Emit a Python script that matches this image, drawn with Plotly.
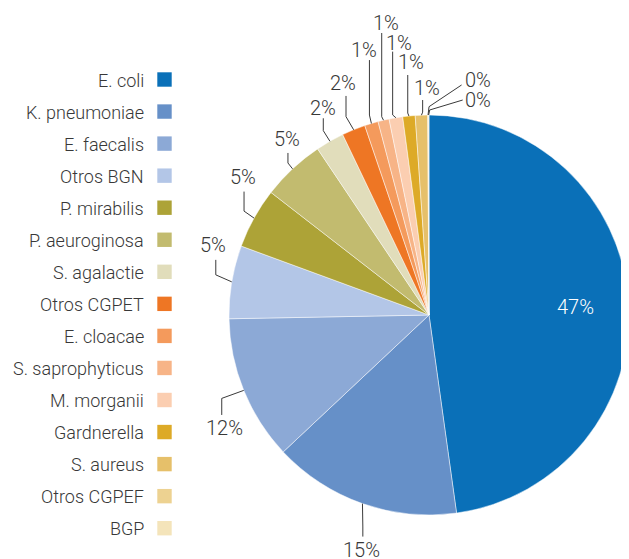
import math
import plotly.graph_objects as go

# ---------------- data ----------------
categories = ["E. coli", "K. pneumoniae", "E. faecalis", "Otros BGN", "P. mirabilis",
              "P. aeuroginosa", "S. agalactie", "Otros CGPET", "E. cloacae",
              "S. saprophyticus", "M. morganii", "Gardnerella", "S. aureus",
              "Otros CGPEF", "BGP"]
values = [47.8, 15.2, 11.7, 5.9, 4.9, 5.1, 2.3, 1.9, 1.1, 0.9, 1.1, 1.0, 1.0, 0.05, 0.05]
pct_labels = ["47%", "15%", "12%", "5%", "5%", "5%", "2%", "2%", "1%", "1%", "1%",
              "1%", "1%", "0%", "0%"]
colors = ["#0A70B8", "#6690C8", "#8CA9D6", "#B3C6E7", "#ADA337", "#C2BB6F", "#E1DDBB",
          "#EE7624", "#F49A5C", "#F7B487", "#FBCEB1", "#DDAA27", "#E6C06A", "#EDD291",
          "#F4E4BA"]

# ---------------- layout (pixels, figure coordinates) ----------------
W, H = 621, 551
CX, CY, R = 421, 307, 200
FONT = "Roboto"
TXT = "#383838"

# leader geometry per outside label: (elbow dx,dy), (end dx,dy), (text dx,dy) relative to rim point
leaders = [
    None,
    ((0.4, 23.4), (0.4, 33.0), (-0.6, 46.0)),
    ((-22, 8), (-22, 24.6), (-19, 38)),
    ((-16, -7), (-16, -22), (-19, -37)),
    ((-10, -7), (-10, -26.5), (-11, -41)),
    ((-4.6, -5.8), (-4.6, -15.8), (-5.6, -30)),
    ((-6.6, -10.6), (-6.6, -23), (-6.6, -33.6)),
    ((-7.6, -13.1), (-7.6, -33.8), (-10.3, -46.5)),
    ((-2, -8.4), (-2, -63.4), (-7.4, -73.4)),
    ((-1.8, -3.5), (-1.8, -87.2), (2.5, -97.5)),
    ((-3.2, -2.8), (-3.2, -66.1), (3.1, -75.1)),
    ((-1.2, -3), (-1.2, -41), (1.8, -54)),
    ((1.2, -3), (1.2, -15.1), (5.2, -26.8)),
    ((1, -8.3), (33.5, -30), (50, -35)),
    ((1, -5), (34, -15), (49.6, -15)),
]


def px(x):
    return x / W


def py(y):
    return 1 - y / H


fig = go.Figure()
fig.add_trace(go.Pie(
    labels=categories, values=values, sort=False, direction="clockwise", rotation=0,
    marker=dict(colors=colors, line=dict(color="rgba(255,255,255,0.6)", width=0.8)),
    textinfo="none", hoverinfo="label+percent", showlegend=False,
    domain=dict(x=[px(CX - R), px(CX + R)], y=[py(CY + R), py(CY - R)]),
))

annotations = []
shapes = []
total = sum(values)
cum = 0.0
for i, v in enumerate(values):
    mid = math.radians(360.0 * (cum + v / 2) / total)
    cum += v
    rx, ry = CX + R * math.sin(mid), CY - R * math.cos(mid)
    if leaders[i] is None:
        tx, ty = CX + 0.735 * R * math.sin(mid), CY - 0.735 * R * math.cos(mid) + 2
        annotations.append(dict(x=px(tx), y=py(ty), xref="paper", yref="paper",
                                text=pct_labels[i], showarrow=False,
                                font=dict(family=FONT, size=20, color="white"),
                                xanchor="center", yanchor="middle"))
        continue
    (ex, ey), (nx, ny), (tx, ty) = leaders[i]
    path = "M {:.4f} {:.4f} L {:.4f} {:.4f} L {:.4f} {:.4f}".format(
        px(rx), py(ry), px(rx + ex), py(ry + ey), px(rx + nx), py(ry + ny))
    shapes.append(dict(type="path", path=path, xref="paper", yref="paper",
                       line=dict(color="#3a3a3a", width=1)))
    annotations.append(dict(x=px(rx + tx), y=py(ry + ty), xref="paper", yref="paper",
                            text=pct_labels[i], showarrow=False,
                            font=dict(family=FONT, size=20, color=TXT),
                            xanchor="center", yanchor="middle"))

# custom legend: text right-aligned, square on the right
LEG_RIGHT, LEG_Y0, LEG_DY, SQ = 138, 72, 32.05, 14.4
SQ_CX = 156.5
for i, name in enumerate(categories):
    y = LEG_Y0 + i * LEG_DY
    annotations.append(dict(x=px(LEG_RIGHT), y=py(y), xref="paper", yref="paper",
                            text=name, showarrow=False,
                            font=dict(family=FONT, size=18, color=TXT),
                            xanchor="right", yanchor="middle"))
    shapes.append(dict(type="rect", xref="paper", yref="paper",
                       x0=px(SQ_CX - SQ / 2), x1=px(SQ_CX + SQ / 2),
                       y0=py(y - 0.5 + SQ / 2), y1=py(y - 0.5 - SQ / 2),
                       fillcolor=colors[i], line=dict(width=0)))

fig.update_layout(
    width=W, height=H, margin=dict(l=0, r=0, t=0, b=0),
    paper_bgcolor="white", plot_bgcolor="white",
    font=dict(family=FONT, size=18, color=TXT, weight=300),
    annotations=annotations, shapes=shapes, showlegend=False,
)

fig.write_html("out.html")
